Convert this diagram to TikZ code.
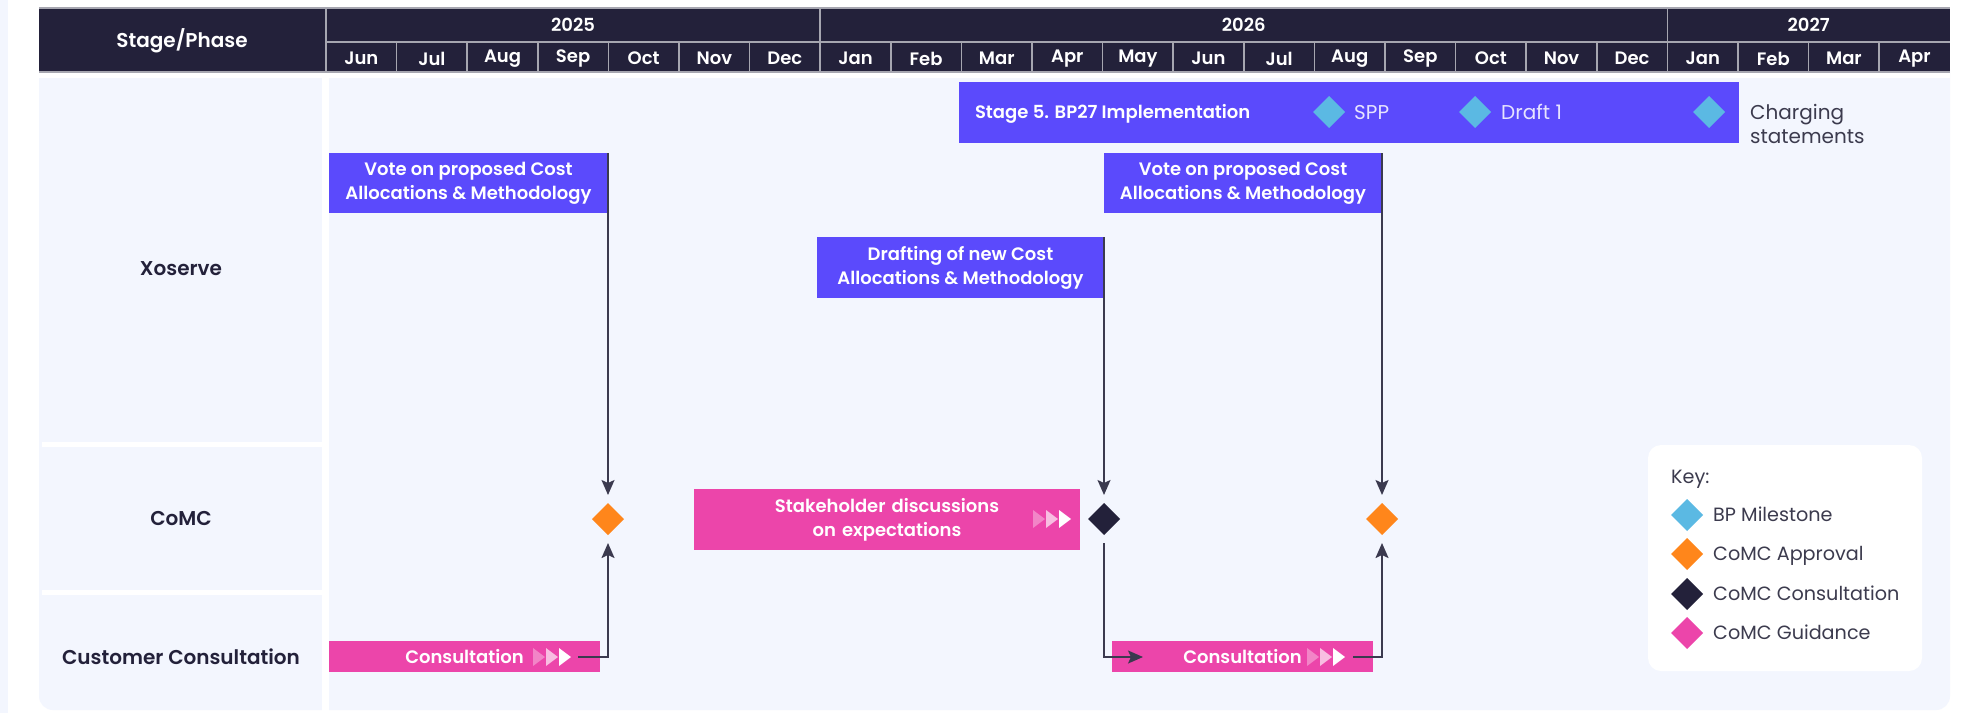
\documentclass[tikz,border=0pt]{standalone}
\usepackage{fontspec}
\setmainfont{Poppins}[BoldFont={Poppins SemiBold}]
\usetikzlibrary{shapes.geometric,arrows.meta}
\definecolor{hdr}{HTML}{23213A}
\definecolor{panelbg}{HTML}{F3F6FE}
\definecolor{purp}{HTML}{5B4AFC}
\definecolor{pinkc}{HTML}{EC45AA}
\definecolor{orangec}{HTML}{FF861B}
\definecolor{bluec}{HTML}{5BB9E3}
\definecolor{gridc}{HTML}{A6A6B0}
\definecolor{linec}{HTML}{3B3A4F}
\definecolor{txtc}{HTML}{3C3B4E}
\tikzset{
  bar/.style={inner sep=0pt, outer sep=0pt, text=white, align=center, font=\bfseries\fontsize{18}{24}\selectfont},
  pbar/.style={bar, fill=purp},
  kbar/.style={bar, fill=pinkc},
  dia/.style={diamond, inner sep=0pt, outer sep=0pt, minimum width=32pt, minimum height=32pt},
  conn/.style={draw=linec, line width=1.8pt},
  arr/.style={conn, -{Stealth[length=15pt,width=13pt,inset=3pt]}},
  gridline/.style={draw=gridc, line width=1.5pt},
  hdrtxt/.style={text=white, font=\bfseries\fontsize{18}{22}\selectfont, inner sep=0pt},
  rowlab/.style={text=hdr, font=\bfseries\fontsize{20}{24}\selectfont, inner sep=0pt, text height=14pt, text depth=0pt},
  keytxt/.style={text=txtc, font=\fontsize{19.2}{24}\selectfont, inner sep=0pt, anchor=west, text height=13.5pt, text depth=0pt},
  mstxt/.style={text=white!85!purp, font=\fontsize{20}{24}\selectfont, inner sep=0pt, anchor=west, text height=14pt, text depth=0pt},
  chev/.pic={
    \fill[white,opacity=.35] (0,-9) -- (12,0) -- (0,9) -- cycle;
    \fill[white,opacity=.65] (13,-9) -- (25,0) -- (13,9) -- cycle;
    \fill[white] (26,-9) -- (38,0) -- (26,9) -- cycle;
  }
}
\begin{document}
\begin{tikzpicture}[x=1pt,y=-1pt]
\useasboundingbox (0,0) rectangle (1977,713);
\fill[white] (0,0) rectangle (1977,713);
\fill[panelbg] (0,0) rectangle (8,713);
% body panel
\fill[panelbg, rounded corners=14pt] (39,56) rectangle (1950,710);
\fill[white] (39,72) rectangle (1950,78);
% header
\fill[hdr] (39,8) rectangle (1950,72);
\draw[gridline] (39,8) -- (1950,8);
\draw[gridline] (39,72) -- (1950,72);
\draw[gridline] (326,42) -- (1950,42);
\draw[gridline] (326,8) -- (326,72);
\draw[gridline] (820.2,8) -- (820.2,72);
\draw[gridline] (1667.4,8) -- (1667.4,72);
\foreach \i in {1,...,22} { \draw[gridline] ({326+70.6*\i},42) -- ({326+70.6*\i},72); }
\node[hdrtxt, font=\bfseries\fontsize{20}{24}\selectfont] (hstage) at (182,41) {Stage/Phase};
\node[hdrtxt] (y2025) at (573,25) {2025};
\node[hdrtxt] (y2026) at (1243.8,25) {2026};
\node[hdrtxt] (y2027) at (1808.7,25) {2027};
\foreach \m [count=\i from 0] in {Jun,Jul,Aug,Sep,Oct,Nov,Dec,Jan,Feb,Mar,Apr,May,Jun,Jul,Aug,Sep,Oct,Nov,Dec,Jan,Feb,Mar,Apr}
  { \node[hdrtxt] (m\i) at ({326+70.6*\i+35.3},58.5) {\m}; }
% dividers
\fill[white] (322,78) rectangle (329,713);
\fill[white] (42,442) rectangle (322,447);
\fill[white] (42,590) rectangle (322,595);
% row labels
\node[rowlab] (rx) at (181,268) {Xoserve};
\node[rowlab] (rc) at (181,518) {CoMC};
\node[rowlab] (rcc) at (181,657) {Customer Consultation};
% stage 5 bar
\node[pbar, minimum width=780pt, minimum height=61pt] (s5) at (1349,112.5) {};
\node[bar, anchor=west, text height=13pt, text depth=0pt] (s5t) at (975,112) {Stage 5. BP27 Implementation};
\node[dia, fill=bluec] (spp) at (1329,112) {};
\node[mstxt] (sppt) at (1354,112) {SPP};
\node[dia, fill=bluec] (d1) at (1475,112) {};
\node[mstxt] (d1t) at (1501,112) {Draft 1};
\node[dia, fill=bluec] (cs) at (1709,112) {};
\node[text=txtc, font=\fontsize{20}{24.5}\selectfont, inner sep=0pt, anchor=north west, align=left] (cst) at (1750,104) {Charging\\statements};
% boxes
\node[pbar, minimum width=279pt, minimum height=60pt] (vote1) at (468.5,183) {Vote on proposed Cost\\Allocations \& Methodology};
\node[pbar, minimum width=278pt, minimum height=60pt] (vote2) at (1243,183) {Vote on proposed Cost\\Allocations \& Methodology};
\node[pbar, minimum width=287pt, minimum height=61pt] (draft) at (960.5,267.5) {Drafting of new Cost\\Allocations \& Methodology};
\node[kbar, minimum width=386pt, minimum height=61pt, text width=386pt] (stake) at (887,519.5) {Stakeholder discussions\\on expectations};
\pic at (1033,519) {chev};
\node[kbar, minimum width=271pt, minimum height=31pt] (cons1) at (464.5,656.5) {Consultation};
\pic at (533,657) {chev};
\node[kbar, minimum width=261pt, minimum height=31pt] (cons2) at (1242.5,656.5) {Consultation};
\pic at (1307,657) {chev};
% milestones
\node[dia, fill=orangec] (o1) at (608,519) {};
\node[dia, fill=hdr] (bk) at (1104,519) {};
\node[dia, fill=orangec] (o2) at (1382,519) {};
% connectors
\coordinate (c1out) at (578,657);
\coordinate (c2in) at (1143,657);
\coordinate (c2out) at (1353,657);
\draw[arr, shorten >=8pt] (vote1.north east) -- (o1.north);
\draw[arr, shorten >=8pt] (c1out) -| (o1.south);
\draw[arr, shorten >=8pt] (draft.north east) -- (bk.north);
\draw[arr, shorten <=8pt] (bk.south) |- (c2in);
\draw[arr, shorten >=8pt] (vote2.north east) -- (o2.north);
\draw[arr, shorten >=8pt] (c2out) -| (o2.south);
% key
\node[fill=white, rounded corners=13pt, minimum width=274pt, minimum height=226pt, inner sep=0pt] (key) at (1785,558) {};
\node[keytxt] (keyt) at (1671,477) {Key:};
\node[dia, fill=bluec] (k1) at (1687,515) {};
\node[keytxt] (k1t) at (1713,515) {BP Milestone};
\node[dia, fill=orangec] (k2) at (1687,554) {};
\node[keytxt] (k2t) at (1713,554) {CoMC Approval};
\node[dia, fill=hdr] (k3) at (1687,594) {};
\node[keytxt] (k3t) at (1713,594) {CoMC Consultation};
\node[dia, fill=pinkc] (k4) at (1687,633) {};
\node[keytxt] (k4t) at (1713,633) {CoMC Guidance};
\end{tikzpicture}
\end{document}
